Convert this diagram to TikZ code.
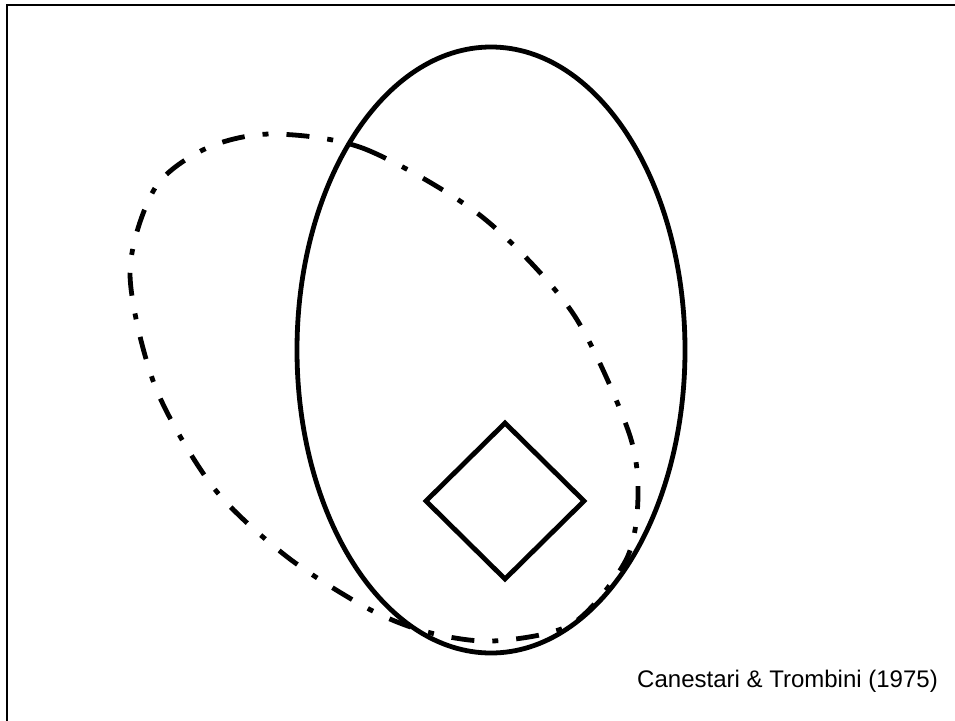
\documentclass[tikz,border=0pt]{standalone}
\usepackage{fontspec}
\setmainfont{Liberation Sans}
\begin{document}
\begin{tikzpicture}[x=1pt,y=-1pt,
  frame/.style={line width=2.2pt},
  solid line/.style={line width=4.8pt},
  blob line/.style={line width=4.8pt,dash pattern=on 23pt off 18pt on 6pt off 18pt}]
\useasboundingbox (0,0) rectangle (955,720);
\draw[frame] (7,5) rectangle (962,726);
\draw[solid line] (491,350) ellipse (194 and 303);
\draw[solid line,line join=miter] (505,423) -- (584,501) -- (505,579) -- (426,501) -- cycle;
\draw[blob line] plot[smooth cycle] coordinates {
  (272,134) (365,149) (481,216) (572,312) (628,430) (638,496)
  (626,560) (572,624) (493,641) (427,632) (367,608) (286,556)
  (213,487) (155,386) (130,273) (155,188) (207,148)};
\node[anchor=base east,font=\fontsize{24}{28}\selectfont,inner sep=0pt] (ref) at (938,687)
  {Canestari \& Trombini (1975)};
\end{tikzpicture}
\end{document}
